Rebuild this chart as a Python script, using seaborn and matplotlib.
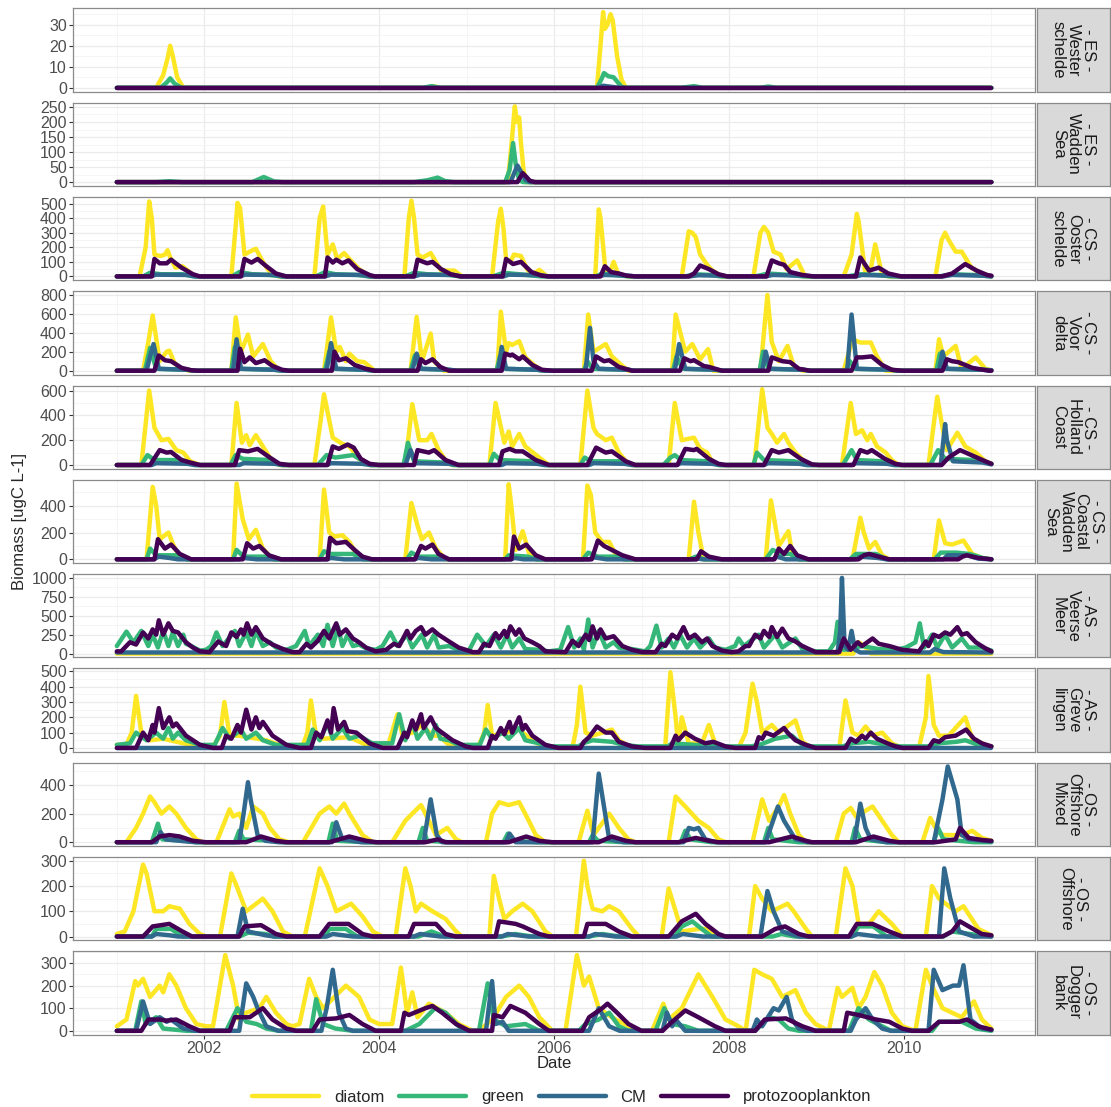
import matplotlib
matplotlib.use('Agg')
import matplotlib.pyplot as plt
import pandas as pd
import seaborn as sns
from matplotlib.lines import Line2D
from matplotlib.ticker import AutoMinorLocator, FixedLocator

SERIES = ['diatom', 'green', 'CM', 'protozooplankton']
COLORS = ['#FDE725', '#35B779', '#31688E', '#440154']

STRIP_LABELS = [
    '- ES -\nWester\nschelde', '- ES -\nWadden\nSea', '- CS -\nOoster\nschelde',
    '- CS -\nVoor\ndelta', '- CS -\nHolland\nCoast', '- CS -\nCoastal\nWadden\nSea',
    '- AS -\nVeerse\nMeer', '- AS -\nGreve\nlingen', '- OS -\nOffshore\nMixed',
    '- OS -\nOffshore', '- OS -\nDogger\nbank',
]
Y_TICKS = [
    [0, 10, 20, 30], [0, 50, 100, 150, 200, 250], [0, 100, 200, 300, 400, 500],
    [0, 200, 400, 600, 800], [0, 200, 400, 600], [0, 200, 400],
    [0, 250, 500, 750, 1000], [0, 100, 200, 300, 400, 500], [0, 200, 400],
    [0, 100, 200, 300], [0, 100, 200, 300],
]
X_MAJOR_YEARS = [2002, 2004, 2006, 2008, 2010]
X_MINOR_YEARS = [2001, 2003, 2005, 2007, 2009, 2011]
X_TICK_LABELS = ['2002', '2004', '2006', '2008', '2010']

# (decimal year, biomass) points
WS_DIATOM = [(2001.0, 0), (2001.45, 0), (2001.53, 6), (2001.58, 14), (2001.61, 20), (2001.64, 15), (2001.69, 5),
             (2001.76, 0), (2004.55, 0), (2004.62, 0.8), (2004.70, 0), (2006.49, 0), (2006.53, 20), (2006.56, 36),
             (2006.58, 28), (2006.61, 30), (2006.645, 35), (2006.67, 32), (2006.72, 15), (2006.77, 4), (2006.82, 0),
             (2011.0, 0)]
WS_GREEN = [(2001.0, 0), (2001.50, 0), (2001.57, 2.5), (2001.61, 4.5), (2001.66, 2), (2001.74, 0), (2004.50, 0),
            (2004.60, 0.8), (2004.70, 0), (2006.49, 0), (2006.54, 4), (2006.57, 7), (2006.62, 5.5), (2006.68, 5),
            (2006.72, 3), (2006.77, 0.5), (2006.82, 0), (2007.45, 0), (2007.60, 0.8), (2007.70, 0), (2008.35, 0),
            (2008.45, 0.6), (2008.55, 0), (2011.0, 0)]
WS_CM = [(2001.0, 0), (2006.50, 0), (2006.56, 1), (2006.65, 0.5), (2006.75, 0), (2011.0, 0)]
WS_PROTO = [(2001.0, 0), (2011.0, 0)]

WZ_DIATOM = [(2001.0, 0), (2005.47, 0), (2005.51, 120), (2005.55, 252), (2005.575, 200), (2005.60, 215),
             (2005.62, 130), (2005.65, 40), (2005.68, 0), (2011.0, 0)]
WZ_GREEN = [(2001.0, 0), (2001.45, 0), (2001.60, 3), (2001.75, 0), (2002.55, 0), (2002.68, 17), (2002.80, 2),
            (2002.90, 0), (2004.40, 0), (2004.55, 6), (2004.67, 15), (2004.75, 4), (2004.85, 0), (2005.44, 0),
            (2005.49, 40), (2005.53, 130), (2005.56, 60), (2005.60, 5), (2005.65, 0), (2011.0, 0)]
WZ_CM = [(2001.0, 0), (2005.50, 0), (2005.55, 35), (2005.58, 55), (2005.62, 35), (2005.67, 8), (2005.72, 0),
         (2011.0, 0)]
WZ_PROTO = [(2001.0, 0), (2005.58, 0), (2005.61, 15), (2005.64, 30), (2005.68, 18), (2005.72, 5), (2005.78, 0),
            (2011.0, 0)]

OS_DIATOM = [(2001.0, 0), (2001.26, 0), (2001.33, 200), (2001.37, 515), (2001.40, 400), (2001.43, 150),
             (2001.50, 140), (2001.55, 150), (2001.58, 180), (2001.61, 130), (2001.67, 60), (2001.75, 70),
             (2001.85, 20), (2001.91, 0), (2002.31, 0), (2002.36, 350), (2002.38, 505), (2002.41, 470),
             (2002.46, 150), (2002.52, 170), (2002.59, 190), (2002.67, 100), (2002.75, 30), (2002.86, 0),
             (2003.26, 0), (2003.32, 400), (2003.36, 480), (2003.41, 150), (2003.47, 220), (2003.52, 120),
             (2003.60, 160), (2003.66, 120), (2003.77, 50), (2003.89, 0), (2004.29, 0), (2004.34, 400),
             (2004.37, 520), (2004.40, 400), (2004.44, 150), (2004.50, 130), (2004.59, 160), (2004.65, 100),
             (2004.71, 40), (2004.86, 40), (2004.95, 0), (2005.29, 0), (2005.36, 380), (2005.39, 465),
             (2005.42, 330), (2005.45, 120), (2005.50, 100), (2005.54, 150), (2005.62, 140), (2005.69, 50),
             (2005.75, 10), (2005.83, 45), (2005.92, 0), (2006.47, 0), (2006.51, 460), (2006.53, 400),
             (2006.59, 20), (2006.64, 30), (2006.68, 100), (2006.73, 20), (2006.84, 0), (2007.46, 0),
             (2007.54, 310), (2007.58, 300), (2007.62, 270), (2007.67, 150), (2007.75, 80), (2007.81, 40),
             (2007.92, 0), (2008.28, 0), (2008.36, 300), (2008.40, 340), (2008.45, 300), (2008.51, 170),
             (2008.59, 150), (2008.66, 50), (2008.78, 110), (2008.87, 0), (2009.31, 0), (2009.40, 150),
             (2009.46, 430), (2009.48, 380), (2009.56, 10), (2009.62, 50), (2009.67, 220), (2009.75, 10),
             (2009.83, 0), (2010.36, 0), (2010.43, 250), (2010.47, 300), (2010.51, 250), (2010.59, 170),
             (2010.66, 170), (2010.77, 60), (2010.89, 20), (2011.0, 0)]
OS_GREEN = [(2001.0, 0), (2001.30, 0), (2001.38, 25), (2001.50, 15), (2001.75, 15), (2001.88, 0), (2002.32, 0),
            (2002.40, 30), (2002.55, 15), (2002.75, 10), (2002.88, 0), (2003.28, 0), (2003.38, 30), (2003.50, 15),
            (2003.75, 10), (2003.88, 0), (2004.30, 0), (2004.40, 25), (2004.55, 15), (2004.80, 10), (2004.92, 0),
            (2005.30, 0), (2005.42, 25), (2005.60, 15), (2005.85, 0), (2006.48, 0), (2006.55, 20), (2006.70, 10),
            (2006.85, 0), (2007.50, 0), (2007.60, 15), (2007.80, 10), (2007.90, 0), (2008.30, 0), (2008.45, 20),
            (2008.70, 10), (2008.85, 0), (2009.35, 0), (2009.50, 15), (2009.70, 10), (2009.85, 0), (2010.40, 0),
            (2010.55, 15), (2010.80, 10), (2011.0, 0)]
OS_CM = [(2001.0, 0), (2001.38, 0), (2001.45, 12), (2001.80, 10), (2001.90, 0), (2002.40, 0), (2002.47, 12),
         (2002.80, 10), (2002.90, 0), (2003.38, 0), (2003.45, 12), (2003.80, 10), (2003.90, 0), (2004.40, 0),
         (2004.47, 12), (2004.85, 10), (2004.95, 0), (2005.42, 0), (2005.48, 12), (2005.85, 8), (2005.93, 0),
         (2006.50, 0), (2006.58, 10), (2006.85, 5), (2006.93, 0), (2007.55, 0), (2007.65, 8), (2007.90, 5),
         (2008.0, 0), (2008.42, 0), (2008.50, 10), (2008.85, 5), (2008.95, 0), (2009.45, 0), (2009.52, 10),
         (2009.85, 5), (2009.95, 0), (2010.45, 0), (2010.55, 10), (2010.90, 5), (2011.0, 0)]
OS_PROTO = [(2001.0, 0), (2001.40, 0), (2001.43, 120), (2001.49, 90), (2001.57, 90), (2001.62, 115), (2001.74, 60),
            (2001.87, 15), (2001.95, 0), (2002.42, 0), (2002.46, 120), (2002.54, 95), (2002.61, 120), (2002.71, 70),
            (2002.82, 20), (2002.94, 0), (2003.38, 0), (2003.41, 130), (2003.47, 95), (2003.51, 115), (2003.58, 90),
            (2003.65, 110), (2003.75, 50), (2003.89, 10), (2003.95, 0), (2004.40, 0), (2004.44, 115), (2004.55, 90),
            (2004.61, 100), (2004.71, 50), (2004.82, 15), (2004.93, 0), (2005.41, 0), (2005.45, 120), (2005.53, 85),
            (2005.62, 100), (2005.74, 30), (2005.86, 5), (2005.94, 0), (2006.53, 0), (2006.58, 70), (2006.65, 30),
            (2006.74, 20), (2006.83, 5), (2006.93, 0), (2007.54, 0), (2007.60, 20), (2007.67, 75), (2007.77, 50),
            (2007.88, 15), (2007.98, 0), (2008.43, 0), (2008.49, 110), (2008.57, 90), (2008.63, 80), (2008.70, 30),
            (2008.84, 10), (2008.97, 0), (2009.45, 0), (2009.50, 130), (2009.60, 40), (2009.71, 60), (2009.82, 20),
            (2009.97, 0), (2010.43, 0), (2010.55, 20), (2010.62, 50), (2010.70, 85), (2010.83, 40), (2010.95, 10),
            (2011.0, 5)]

VD_DIATOM = [(2001.0, 0), (2001.30, 0), (2001.36, 300), (2001.41, 580), (2001.44, 400), (2001.49, 100),
             (2001.57, 200), (2001.60, 210), (2001.66, 80), (2001.74, 20), (2001.83, 0), (2002.31, 0),
             (2002.36, 560), (2002.42, 200), (2002.50, 380), (2002.56, 150), (2002.67, 280), (2002.76, 100),
             (2002.86, 0), (2003.37, 0), (2003.45, 560), (2003.51, 200), (2003.55, 250), (2003.62, 100),
             (2003.66, 180), (2003.75, 100), (2003.83, 90), (2003.95, 0), (2004.36, 0), (2004.43, 565),
             (2004.49, 100), (2004.59, 390), (2004.63, 100), (2004.74, 0), (2005.35, 0), (2005.39, 620),
             (2005.45, 200), (2005.48, 290), (2005.52, 270), (2005.60, 310), (2005.67, 140), (2005.77, 60),
             (2005.86, 0), (2006.34, 0), (2006.39, 590), (2006.45, 200), (2006.59, 280), (2006.66, 150),
             (2006.78, 50), (2006.85, 0), (2007.35, 0), (2007.39, 590), (2007.50, 200), (2007.58, 280),
             (2007.67, 120), (2007.76, 226), (2007.82, 0), (2008.36, 0), (2008.44, 795), (2008.49, 300),
             (2008.57, 100), (2008.67, 260), (2008.74, 50), (2008.84, 0), (2009.31, 0), (2009.41, 330),
             (2009.50, 296), (2009.62, 296), (2009.69, 150), (2009.79, 0), (2010.36, 0), (2010.40, 330),
             (2010.45, 150), (2010.59, 260), (2010.66, 20), (2010.82, 140), (2010.93, 20), (2011.0, 5)]
VD_GREEN = [(2001.0, 0), (2001.32, 0), (2001.38, 240), (2001.45, 20), (2001.80, 10), (2001.88, 0), (2002.31, 0),
            (2002.35, 250), (2002.41, 20), (2002.80, 10), (2002.88, 0), (2003.38, 0), (2003.43, 200), (2003.49, 20),
            (2003.85, 10), (2003.92, 0), (2004.36, 0), (2004.41, 160), (2004.47, 20), (2004.80, 10), (2004.88, 0),
            (2005.34, 0), (2005.38, 150), (2005.44, 20), (2005.80, 10), (2005.88, 0), (2006.34, 0), (2006.38, 100),
            (2006.44, 20), (2006.85, 10), (2006.92, 0), (2007.36, 0), (2007.40, 150), (2007.47, 20), (2007.85, 10),
            (2007.92, 0), (2008.35, 0), (2008.39, 200), (2008.45, 20), (2008.85, 10), (2008.92, 0), (2009.34, 0),
            (2009.38, 100), (2009.44, 20), (2009.85, 10), (2009.92, 0), (2010.37, 0), (2010.41, 180), (2010.47, 20),
            (2010.90, 10), (2011.0, 5)]
VD_CM = [(2001.0, 0), (2001.34, 0), (2001.38, 150), (2001.42, 280), (2001.48, 20), (2001.80, 10), (2001.90, 0),
         (2002.33, 0), (2002.37, 330), (2002.42, 20), (2002.80, 10), (2002.90, 0), (2003.40, 0), (2003.45, 290),
         (2003.51, 20), (2003.85, 10), (2003.95, 0), (2004.38, 0), (2004.43, 180), (2004.48, 20), (2004.80, 10),
         (2004.90, 0), (2005.36, 0), (2005.40, 250), (2005.45, 20), (2005.80, 10), (2005.90, 0), (2006.36, 0),
         (2006.41, 450), (2006.45, 100), (2006.51, 20), (2006.85, 10), (2006.92, 0), (2007.38, 0), (2007.43, 280),
         (2007.50, 20), (2007.85, 10), (2007.93, 0), (2008.38, 0), (2008.42, 200), (2008.47, 20), (2008.85, 10),
         (2008.93, 0), (2009.35, 0), (2009.40, 590), (2009.46, 20), (2009.85, 10), (2009.93, 0), (2010.40, 0),
         (2010.44, 200), (2010.49, 20), (2010.90, 10), (2011.0, 5)]
VD_PROTO = [(2001.0, 0), (2001.43, 0), (2001.48, 160), (2001.55, 110), (2001.62, 100), (2001.74, 30), (2001.85, 5),
            (2001.93, 0), (2002.38, 0), (2002.41, 230), (2002.46, 90), (2002.52, 140), (2002.59, 80), (2002.69, 110),
            (2002.78, 50), (2002.89, 10), (2002.97, 0), (2003.46, 0), (2003.49, 200), (2003.54, 110), (2003.62, 130),
            (2003.72, 60), (2003.85, 20), (2003.95, 0), (2004.44, 0), (2004.48, 120), (2004.53, 80), (2004.61, 120),
            (2004.70, 40), (2004.80, 0), (2005.40, 0), (2005.44, 180), (2005.50, 160), (2005.52, 170), (2005.60, 120),
            (2005.64, 150), (2005.75, 60), (2005.86, 10), (2005.98, 0), (2006.43, 0), (2006.48, 150), (2006.57, 100),
            (2006.63, 110), (2006.74, 40), (2006.89, 0), (2007.44, 0), (2007.49, 130), (2007.56, 100), (2007.60, 110),
            (2007.71, 50), (2007.77, 40), (2007.92, 0), (2008.45, 0), (2008.49, 140), (2008.61, 100), (2008.70, 90),
            (2008.80, 20), (2008.93, 0), (2009.40, 0), (2009.46, 140), (2009.52, 140), (2009.63, 150), (2009.75, 60),
            (2009.86, 10), (2009.98, 0), (2010.44, 0), (2010.49, 120), (2010.55, 100), (2010.62, 90), (2010.78, 30),
            (2010.97, 0), (2011.0, 0)]

HC_DIATOM = [(2001.0, 0), (2001.28, 0), (2001.34, 400), (2001.37, 600), (2001.43, 300), (2001.51, 200),
             (2001.59, 210), (2001.68, 120), (2001.76, 100), (2001.84, 30), (2001.95, 0), (2002.31, 0),
             (2002.37, 500), (2002.43, 180), (2002.48, 240), (2002.52, 160), (2002.59, 240), (2002.67, 150),
             (2002.75, 60), (2002.86, 0), (2003.26, 0), (2003.33, 350), (2003.37, 570), (2003.47, 220),
             (2003.58, 170), (2003.66, 150), (2003.77, 50), (2003.89, 0), (2004.30, 0), (2004.38, 490),
             (2004.46, 200), (2004.55, 200), (2004.60, 250), (2004.68, 120), (2004.76, 40), (2004.84, 0),
             (2005.26, 0), (2005.33, 500), (2005.43, 180), (2005.48, 270), (2005.52, 150), (2005.60, 250),
             (2005.67, 150), (2005.83, 60), (2005.94, 0), (2006.30, 0), (2006.38, 600), (2006.45, 300),
             (2006.49, 250), (2006.59, 200), (2006.66, 220), (2006.74, 100), (2006.82, 30), (2006.89, 0),
             (2007.31, 0), (2007.38, 500), (2007.46, 200), (2007.60, 220), (2007.67, 130), (2007.75, 100),
             (2007.81, 20), (2007.88, 0), (2008.29, 0), (2008.38, 610), (2008.44, 300), (2008.49, 250),
             (2008.55, 180), (2008.63, 250), (2008.68, 180), (2008.76, 100), (2008.86, 30), (2008.95, 0),
             (2009.29, 0), (2009.39, 500), (2009.45, 250), (2009.52, 280), (2009.58, 200), (2009.62, 250),
             (2009.69, 150), (2009.79, 100), (2009.86, 40), (2009.94, 0), (2010.28, 0), (2010.38, 550),
             (2010.44, 300), (2010.49, 120), (2010.61, 260), (2010.70, 150), (2010.82, 100), (2010.93, 30),
             (2011.0, 10)]
HC_GREEN = [(2001.0, 0), (2001.28, 0), (2001.35, 80), (2001.43, 40), (2001.75, 40), (2001.88, 0), (2002.30, 0),
            (2002.36, 80), (2002.44, 50), (2002.75, 40), (2002.88, 0), (2003.30, 0), (2003.40, 80), (2003.50, 60),
            (2003.70, 80), (2003.80, 40), (2003.90, 0), (2004.28, 0), (2004.33, 180), (2004.40, 30), (2004.75, 20),
            (2004.85, 0), (2005.26, 0), (2005.31, 90), (2005.38, 40), (2005.75, 30), (2005.88, 0), (2006.30, 0),
            (2006.35, 60), (2006.42, 30), (2006.75, 30), (2006.88, 0), (2007.25, 0), (2007.33, 60), (2007.38, 80),
            (2007.45, 40), (2007.75, 30), (2007.88, 0), (2008.28, 0), (2008.32, 100), (2008.40, 40), (2008.75, 30),
            (2008.88, 0), (2009.30, 0), (2009.40, 120), (2009.46, 40), (2009.75, 30), (2009.88, 0), (2010.30, 0),
            (2010.39, 120), (2010.47, 50), (2010.80, 40), (2011.0, 10)]
HC_CM = [(2001.0, 0), (2001.40, 0), (2001.45, 15), (2001.80, 10), (2001.90, 0), (2002.40, 0), (2002.45, 15),
         (2002.80, 10), (2002.90, 0), (2003.40, 0), (2003.45, 15), (2003.80, 10), (2003.90, 0), (2004.30, 0),
         (2004.36, 120), (2004.42, 15), (2004.80, 10), (2004.90, 0), (2005.40, 0), (2005.45, 15), (2005.80, 10),
         (2005.90, 0), (2006.40, 0), (2006.45, 15), (2006.80, 10), (2006.90, 0), (2007.40, 0), (2007.45, 15),
         (2007.80, 10), (2007.90, 0), (2008.40, 0), (2008.45, 15), (2008.80, 10), (2008.90, 0), (2009.40, 0),
         (2009.45, 15), (2009.80, 10), (2009.90, 0), (2010.42, 0), (2010.47, 330), (2010.49, 200), (2010.56, 30),
         (2010.90, 20), (2011.0, 5)]
HC_PROTO = [(2001.0, 0), (2001.38, 0), (2001.49, 120), (2001.57, 100), (2001.62, 105), (2001.74, 40), (2001.84, 20),
            (2001.95, 0), (2002.35, 0), (2002.40, 120), (2002.50, 110), (2002.61, 130), (2002.75, 60), (2002.86, 10),
            (2002.97, 0), (2003.41, 0), (2003.47, 150), (2003.54, 130), (2003.64, 165), (2003.71, 140), (2003.79, 50),
            (2003.89, 10), (2004.0, 0), (2004.40, 0), (2004.44, 120), (2004.57, 100), (2004.63, 120), (2004.76, 40),
            (2004.91, 0), (2005.37, 0), (2005.41, 110), (2005.49, 130), (2005.56, 110), (2005.64, 110), (2005.79, 40),
            (2005.94, 0), (2006.38, 0), (2006.48, 140), (2006.59, 100), (2006.66, 110), (2006.82, 30), (2006.93, 0),
            (2007.41, 0), (2007.50, 130), (2007.60, 120), (2007.63, 130), (2007.77, 50), (2007.88, 10), (2007.96, 0),
            (2008.40, 0), (2008.49, 120), (2008.57, 100), (2008.68, 120), (2008.82, 50), (2008.95, 5), (2009.03, 0),
            (2009.42, 0), (2009.50, 120), (2009.58, 100), (2009.63, 120), (2009.78, 50), (2009.90, 10), (2009.98, 0),
            (2010.43, 0), (2010.51, 60), (2010.64, 120), (2010.77, 80), (2010.93, 30), (2011.0, 10)]

CW_DIATOM = [(2001.0, 0), (2001.34, 0), (2001.41, 540), (2001.45, 400), (2001.49, 150), (2001.59, 200),
             (2001.65, 100), (2001.72, 20), (2001.80, 0), (2002.33, 0), (2002.37, 565), (2002.44, 300),
             (2002.51, 150), (2002.59, 220), (2002.67, 80), (2002.78, 0), (2003.32, 0), (2003.37, 520),
             (2003.43, 200), (2003.49, 170), (2003.58, 180), (2003.66, 130), (2003.73, 50), (2003.85, 0),
             (2004.30, 0), (2004.37, 420), (2004.44, 250), (2004.49, 150), (2004.57, 200), (2004.65, 80),
             (2004.76, 0), (2005.44, 0), (2005.48, 560), (2005.51, 400), (2005.56, 70), (2005.64, 210),
             (2005.71, 50), (2005.79, 0), (2006.33, 0), (2006.38, 550), (2006.42, 480), (2006.47, 200),
             (2006.55, 130), (2006.63, 130), (2006.70, 40), (2006.82, 0), (2007.54, 0), (2007.60, 430),
             (2007.65, 200), (2007.71, 0), (2008.42, 0), (2008.48, 440), (2008.57, 100), (2008.68, 210),
             (2008.72, 50), (2008.80, 0), (2009.41, 0), (2009.50, 310), (2009.54, 200), (2009.60, 80),
             (2009.67, 130), (2009.75, 30), (2009.83, 0), (2010.34, 0), (2010.40, 290), (2010.47, 120),
             (2010.55, 110), (2010.68, 140), (2010.78, 40), (2010.89, 10), (2011.0, 0)]
CW_GREEN = [(2001.0, 0), (2001.34, 0), (2001.38, 80), (2001.45, 30), (2001.70, 30), (2001.80, 0), (2002.33, 0),
            (2002.37, 70), (2002.45, 20), (2002.70, 20), (2002.80, 0), (2003.32, 0), (2003.37, 60), (2003.45, 40),
            (2003.70, 40), (2003.82, 0), (2004.32, 0), (2004.37, 50), (2004.45, 20), (2004.70, 20), (2004.80, 0),
            (2005.44, 0), (2005.48, 30), (2005.70, 20), (2005.80, 0), (2006.33, 0), (2006.39, 50), (2006.50, 20),
            (2006.70, 20), (2006.80, 0), (2007.55, 0), (2007.62, 20), (2007.72, 0), (2008.42, 0), (2008.50, 70),
            (2008.60, 40), (2008.70, 40), (2008.80, 0), (2009.38, 0), (2009.45, 40), (2009.68, 40), (2009.80, 0),
            (2010.35, 0), (2010.42, 50), (2010.60, 50), (2010.75, 40), (2010.90, 10), (2011.0, 0)]
CW_CM = [(2001.0, 0), (2001.42, 0), (2001.48, 20), (2001.60, 10), (2001.70, 0), (2002.40, 0), (2002.45, 10),
         (2002.60, 0), (2003.40, 0), (2003.45, 10), (2003.60, 0), (2004.40, 0), (2004.45, 10), (2004.60, 0),
         (2005.50, 0), (2005.55, 10), (2005.65, 0), (2006.40, 0), (2006.45, 15), (2006.60, 0), (2007.60, 0),
         (2007.65, 5), (2007.70, 0), (2008.50, 0), (2008.55, 20), (2008.65, 0), (2009.45, 0), (2009.50, 20),
         (2009.70, 10), (2009.80, 0), (2010.45, 0), (2010.50, 30), (2010.72, 30), (2010.85, 5), (2011.0, 0)]
CW_PROTO = [(2001.0, 0), (2001.43, 0), (2001.47, 150), (2001.55, 80), (2001.62, 110), (2001.72, 40), (2001.85, 0),
            (2002.44, 0), (2002.49, 120), (2002.56, 80), (2002.63, 100), (2002.74, 30), (2002.88, 0), (2003.41, 0),
            (2003.44, 160), (2003.51, 120), (2003.62, 130), (2003.72, 70), (2003.81, 20), (2003.92, 0), (2004.41, 0),
            (2004.48, 100), (2004.53, 80), (2004.61, 110), (2004.68, 40), (2004.80, 0), (2005.51, 0), (2005.54, 170),
            (2005.60, 80), (2005.68, 110), (2005.79, 30), (2005.90, 0), (2006.43, 0), (2006.50, 140), (2006.57, 100),
            (2006.66, 70), (2006.78, 30), (2006.93, 0), (2007.63, 0), (2007.68, 60), (2007.77, 20), (2007.92, 0),
            (2008.52, 0), (2008.57, 80), (2008.63, 40), (2008.70, 100), (2008.78, 30), (2008.91, 0), (2009.48, 0),
            (2009.54, 30), (2009.60, 40), (2009.71, 20), (2009.83, 0), (2010.62, 0), (2010.67, 20), (2010.72, 30),
            (2010.85, 10), (2011.0, 0)]

VM_DIATOM = [(2001.0, 0), (2009.42, 0), (2009.48, 150), (2009.55, 100), (2009.62, 0), (2011.0, 0)]
VM_GREEN = [(2001.0, 100), (2001.11, 290), (2001.19, 150), (2001.28, 300), (2001.36, 100), (2001.41, 250),
            (2001.47, 80), (2001.53, 300), (2001.59, 100), (2001.64, 280), (2001.70, 100), (2001.76, 250),
            (2001.79, 130), (2001.85, 100), (2001.95, 40), (2002.02, 50), (2002.08, 100), (2002.14, 280),
            (2002.21, 100), (2002.35, 300), (2002.40, 100), (2002.48, 280), (2002.54, 100), (2002.59, 300),
            (2002.67, 100), (2002.75, 150), (2002.82, 80), (2002.94, 50), (2003.05, 100), (2003.15, 300),
            (2003.20, 100), (2003.30, 250), (2003.36, 100), (2003.41, 380), (2003.47, 100), (2003.53, 350),
            (2003.58, 100), (2003.64, 250), (2003.70, 100), (2003.77, 120), (2003.85, 70), (2003.96, 50),
            (2004.04, 100), (2004.13, 280), (2004.21, 100), (2004.32, 250), (2004.38, 80), (2004.49, 250),
            (2004.55, 80), (2004.63, 250), (2004.68, 80), (2004.80, 100), (2004.95, 30), (2005.03, 50),
            (2005.12, 250), (2005.22, 100), (2005.31, 250), (2005.39, 80), (2005.46, 250), (2005.52, 80),
            (2005.60, 200), (2005.67, 60), (2005.83, 50), (2005.94, 30), (2006.07, 50), (2006.16, 350),
            (2006.23, 80), (2006.30, 200), (2006.34, 50), (2006.39, 450), (2006.44, 80), (2006.51, 300),
            (2006.59, 80), (2006.68, 150), (2006.74, 80), (2006.89, 60), (2007.04, 30), (2007.10, 100),
            (2007.17, 370), (2007.23, 80), (2007.31, 200), (2007.37, 80), (2007.44, 250), (2007.52, 80),
            (2007.60, 200), (2007.67, 80), (2007.77, 200), (2007.84, 80), (2007.96, 50), (2008.07, 100),
            (2008.11, 200), (2008.17, 100), (2008.34, 250), (2008.40, 80), (2008.53, 250), (2008.61, 80),
            (2008.76, 200), (2008.84, 60), (2008.99, 30), (2009.14, 30), (2009.21, 150), (2009.24, 420),
            (2009.27, 100), (2009.31, 50), (2009.52, 100), (2009.71, 60), (2009.90, 50), (2010.02, 80),
            (2010.13, 150), (2010.18, 400), (2010.23, 80), (2010.32, 250), (2010.38, 80), (2010.47, 250),
            (2010.55, 80), (2010.66, 200), (2010.74, 80), (2010.89, 80), (2011.0, 40)]
VM_CM = [(2001.0, 15), (2009.24, 15), (2009.27, 300), (2009.29, 1000), (2009.32, 100), (2009.36, 50),
         (2009.40, 300), (2009.44, 50), (2009.50, 15), (2010.30, 15), (2010.35, 60), (2010.45, 20), (2011.0, 15)]
VM_PROTO = [(2001.0, 30), (2001.05, 30), (2001.15, 150), (2001.22, 120), (2001.30, 280), (2001.36, 200),
            (2001.41, 320), (2001.45, 250), (2001.48, 440), (2001.53, 250), (2001.59, 400), (2001.64, 300),
            (2001.70, 280), (2001.79, 150), (2001.87, 80), (2001.95, 30), (2002.06, 20), (2002.16, 160),
            (2002.25, 100), (2002.31, 280), (2002.37, 220), (2002.42, 320), (2002.45, 250), (2002.49, 400),
            (2002.54, 250), (2002.59, 350), (2002.67, 200), (2002.78, 120), (2002.90, 60), (2003.01, 20),
            (2003.09, 20), (2003.17, 130), (2003.22, 80), (2003.30, 170), (2003.37, 300), (2003.43, 200),
            (2003.51, 400), (2003.55, 250), (2003.62, 320), (2003.70, 200), (2003.77, 150), (2003.85, 80),
            (2003.96, 30), (2004.08, 50), (2004.17, 130), (2004.23, 100), (2004.32, 300), (2004.36, 200),
            (2004.42, 300), (2004.48, 350), (2004.53, 250), (2004.61, 320), (2004.68, 250), (2004.80, 160),
            (2004.91, 80), (2005.07, 20), (2005.14, 20), (2005.20, 130), (2005.26, 100), (2005.33, 270),
            (2005.37, 200), (2005.43, 300), (2005.46, 220), (2005.50, 360), (2005.56, 250), (2005.60, 320),
            (2005.66, 200), (2005.75, 150), (2005.83, 100), (2005.90, 30), (2006.13, 20), (2006.21, 170),
            (2006.28, 100), (2006.36, 250), (2006.40, 180), (2006.44, 360), (2006.49, 200), (2006.53, 320),
            (2006.59, 200), (2006.68, 230), (2006.78, 100), (2006.89, 50), (2007.01, 20), (2007.16, 20),
            (2007.23, 130), (2007.27, 100), (2007.35, 250), (2007.41, 200), (2007.48, 350), (2007.54, 200),
            (2007.61, 250), (2007.69, 150), (2007.75, 200), (2007.81, 100), (2007.92, 40), (2008.03, 20),
            (2008.11, 30), (2008.19, 100), (2008.23, 100), (2008.30, 250), (2008.36, 200), (2008.40, 300),
            (2008.46, 220), (2008.49, 350), (2008.55, 220), (2008.61, 330), (2008.68, 200), (2008.76, 160),
            (2008.84, 100), (2008.99, 20), (2009.26, 20), (2009.31, 200), (2009.39, 50), (2009.47, 150),
            (2009.52, 100), (2009.64, 200), (2009.71, 130), (2009.83, 100), (2009.98, 50), (2010.17, 30),
            (2010.25, 160), (2010.28, 100), (2010.34, 250), (2010.40, 220), (2010.47, 280), (2010.53, 250),
            (2010.61, 350), (2010.66, 250), (2010.72, 270), (2010.82, 150), (2010.93, 70), (2011.0, 30)]

GR_DIATOM = [(2001.0, 20), (2001.11, 20), (2001.17, 100), (2001.22, 340), (2001.28, 100), (2001.38, 50),
             (2001.53, 60), (2001.76, 30), (2001.95, 10), (2002.10, 10), (2002.18, 80), (2002.23, 300),
             (2002.29, 80), (2002.40, 80), (2002.71, 50), (2002.90, 10), (2003.13, 20), (2003.18, 100),
             (2003.22, 310), (2003.28, 80), (2003.35, 60), (2003.66, 70), (2003.85, 20), (2004.11, 30),
             (2004.21, 220), (2004.27, 80), (2004.38, 100), (2004.49, 150), (2004.61, 80), (2004.68, 80),
             (2004.80, 20), (2004.99, 10), (2005.14, 20), (2005.20, 100), (2005.24, 280), (2005.29, 80),
             (2005.45, 100), (2005.60, 120), (2005.75, 50), (2005.90, 0), (2006.21, 0), (2006.26, 150),
             (2006.30, 400), (2006.36, 100), (2006.44, 80), (2006.66, 120), (2006.74, 50), (2006.89, 0),
             (2007.27, 0), (2007.33, 495), (2007.39, 200), (2007.42, 10), (2007.46, 200), (2007.54, 30),
             (2007.69, 30), (2007.77, 150), (2007.84, 30), (2007.92, 0), (2008.11, 0), (2008.19, 100),
             (2008.27, 420), (2008.32, 300), (2008.38, 100), (2008.49, 150), (2008.57, 100), (2008.76, 180),
             (2008.84, 40), (2008.95, 0), (2009.26, 0), (2009.33, 310), (2009.41, 100), (2009.48, 80),
             (2009.56, 140), (2009.64, 80), (2009.75, 100), (2009.86, 30), (2009.98, 0), (2010.17, 0),
             (2010.25, 200), (2010.28, 470), (2010.34, 150), (2010.40, 80), (2010.51, 80), (2010.70, 200),
             (2010.78, 60), (2010.93, 20), (2011.0, 10)]
GR_GREEN = [(2001.0, 20), (2001.15, 30), (2001.22, 100), (2001.34, 50), (2001.45, 100), (2001.53, 60),
            (2001.59, 130), (2001.64, 60), (2001.70, 100), (2001.79, 50), (2001.95, 20), (2002.12, 20),
            (2002.21, 130), (2002.29, 60), (2002.42, 120), (2002.48, 60), (2002.59, 100), (2002.67, 50),
            (2002.82, 20), (2003.18, 20), (2003.24, 120), (2003.32, 50), (2003.41, 160), (2003.47, 60),
            (2003.58, 130), (2003.66, 60), (2003.77, 80), (2003.92, 30), (2004.15, 30), (2004.23, 220),
            (2004.30, 50), (2004.38, 170), (2004.44, 60), (2004.53, 130), (2004.59, 60), (2004.65, 150),
            (2004.70, 60), (2004.80, 50), (2004.91, 20), (2005.15, 20), (2005.22, 120), (2005.29, 60),
            (2005.41, 100), (2005.48, 60), (2005.60, 130), (2005.67, 50), (2005.83, 30), (2005.95, 10),
            (2006.28, 10), (2006.33, 30), (2006.44, 50), (2006.66, 40), (2006.80, 20), (2006.95, 10),
            (2007.30, 10), (2007.35, 30), (2007.60, 20), (2007.90, 10), (2008.25, 10), (2008.35, 20),
            (2008.53, 60), (2008.72, 80), (2008.84, 20), (2008.95, 10), (2009.30, 10), (2009.40, 30),
            (2009.60, 40), (2009.80, 20), (2009.95, 10), (2010.30, 10), (2010.40, 30), (2010.60, 40),
            (2010.70, 50), (2010.85, 20), (2011.0, 10)]
GR_CM = [(2001.0, 2), (2011.0, 2)]
GR_PROTO = [(2001.0, 0), (2001.22, 0), (2001.30, 100), (2001.36, 50), (2001.41, 150), (2001.43, 100),
            (2001.48, 260), (2001.53, 130), (2001.60, 200), (2001.64, 140), (2001.68, 160), (2001.79, 80),
            (2001.95, 20), (2002.10, 0), (2002.20, 0), (2002.25, 80), (2002.31, 60), (2002.38, 150), (2002.42, 100),
            (2002.48, 250), (2002.54, 120), (2002.59, 200), (2002.63, 130), (2002.67, 170), (2002.78, 80),
            (2002.94, 20), (2003.09, 0), (2003.22, 0), (2003.28, 100), (2003.34, 70), (2003.41, 180), (2003.45, 100),
            (2003.48, 260), (2003.53, 120), (2003.60, 170), (2003.64, 110), (2003.74, 100), (2003.89, 30),
            (2004.04, 0), (2004.21, 0), (2004.29, 100), (2004.32, 70), (2004.38, 180), (2004.42, 120), (2004.48, 220),
            (2004.51, 130), (2004.59, 200), (2004.65, 130), (2004.72, 100), (2004.84, 50), (2004.99, 10),
            (2005.07, 0), (2005.24, 0), (2005.29, 80), (2005.33, 60), (2005.39, 130), (2005.43, 90), (2005.49, 170),
            (2005.52, 100), (2005.60, 200), (2005.64, 120), (2005.67, 150), (2005.75, 80), (2005.90, 20),
            (2006.05, 0), (2006.30, 0), (2006.34, 40), (2006.40, 70), (2006.49, 140), (2006.59, 100), (2006.66, 100),
            (2006.74, 40), (2006.89, 10), (2007.04, 0), (2007.33, 0), (2007.39, 80), (2007.42, 50), (2007.50, 100),
            (2007.61, 60), (2007.73, 30), (2007.82, 40), (2007.96, 10), (2008.07, 0), (2008.30, 0), (2008.34, 70),
            (2008.38, 60), (2008.42, 100), (2008.51, 80), (2008.63, 130), (2008.67, 100), (2008.76, 50),
            (2008.88, 20), (2008.99, 0), (2009.33, 0), (2009.39, 60), (2009.45, 40), (2009.52, 80), (2009.56, 60),
            (2009.62, 100), (2009.69, 60), (2009.81, 30), (2009.90, 10), (2009.98, 0), (2010.28, 0), (2010.34, 50),
            (2010.40, 40), (2010.47, 70), (2010.59, 80), (2010.71, 120), (2010.80, 60), (2010.89, 30), (2011.0, 10)]

OM_DIATOM = [(2001.0, 0), (2001.11, 0), (2001.22, 100), (2001.30, 200), (2001.38, 320), (2001.43, 280),
             (2001.51, 200), (2001.60, 250), (2001.68, 200), (2001.79, 100), (2001.91, 20), (2001.98, 0),
             (2002.14, 0), (2002.29, 230), (2002.33, 180), (2002.40, 200), (2002.48, 100), (2002.56, 250),
             (2002.67, 200), (2002.75, 100), (2002.86, 20), (2002.97, 0), (2003.13, 0), (2003.32, 200),
             (2003.43, 250), (2003.51, 200), (2003.60, 270), (2003.66, 200), (2003.81, 50), (2003.93, 0),
             (2004.15, 0), (2004.30, 150), (2004.38, 200), (2004.48, 260), (2004.53, 200), (2004.65, 50),
             (2004.78, 100), (2004.88, 20), (2004.95, 0), (2005.22, 0), (2005.29, 200), (2005.37, 280),
             (2005.48, 260), (2005.60, 280), (2005.71, 150), (2005.79, 50), (2005.90, 0), (2006.28, 0),
             (2006.38, 220), (2006.45, 50), (2006.63, 200), (2006.74, 100), (2006.85, 20), (2006.93, 0),
             (2007.31, 0), (2007.39, 320), (2007.50, 250), (2007.65, 150), (2007.77, 100), (2007.88, 20),
             (2007.96, 0), (2008.27, 0), (2008.38, 300), (2008.46, 150), (2008.57, 250), (2008.63, 330),
             (2008.70, 200), (2008.80, 50), (2008.88, 0), (2009.22, 0), (2009.31, 200), (2009.39, 240),
             (2009.45, 180), (2009.64, 250), (2009.75, 150), (2009.86, 50), (2009.94, 0), (2010.21, 0),
             (2010.30, 170), (2010.36, 100), (2010.44, 50), (2010.66, 50), (2010.78, 80), (2010.89, 30),
             (2011.0, 10)]
OM_GREEN = [(2001.0, 0), (2001.40, 0), (2001.47, 130), (2001.52, 20), (2001.80, 10), (2001.90, 0), (2002.35, 0),
            (2002.40, 80), (2002.45, 20), (2002.80, 10), (2002.90, 0), (2003.42, 0), (2003.47, 130), (2003.52, 10),
            (2003.85, 0), (2004.45, 0), (2004.50, 100), (2004.55, 10), (2004.80, 0), (2005.42, 0), (2005.47, 60),
            (2005.52, 10), (2005.80, 0), (2006.40, 0), (2006.44, 50), (2006.50, 10), (2006.80, 0), (2007.45, 0),
            (2007.50, 80), (2007.56, 20), (2007.80, 0), (2008.40, 0), (2008.45, 100), (2008.50, 20), (2008.80, 0),
            (2009.40, 0), (2009.44, 100), (2009.50, 20), (2009.80, 0), (2010.34, 0), (2010.39, 100), (2010.45, 20),
            (2010.80, 0), (2011.0, 0)]
OM_CM = [(2001.0, 0), (2001.45, 0), (2001.50, 70), (2001.56, 20), (2001.80, 5), (2001.90, 0), (2002.40, 0),
         (2002.45, 200), (2002.50, 420), (2002.53, 300), (2002.61, 50), (2002.70, 10), (2002.85, 0), (2003.46, 0),
         (2003.51, 140), (2003.58, 20), (2003.80, 0), (2004.51, 0), (2004.59, 300), (2004.66, 50), (2004.72, 0),
         (2005.45, 0), (2005.49, 60), (2005.56, 0), (2006.44, 0), (2006.51, 480), (2006.57, 250), (2006.63, 20),
         (2006.80, 0), (2007.48, 0), (2007.54, 100), (2007.60, 90), (2007.65, 100), (2007.73, 20), (2007.85, 0),
         (2008.42, 0), (2008.56, 250), (2008.63, 150), (2008.68, 100), (2008.76, 20), (2008.90, 0), (2009.43, 0),
         (2009.50, 270), (2009.56, 100), (2009.62, 20), (2009.80, 0), (2010.34, 0), (2010.44, 300), (2010.50, 530),
         (2010.61, 300), (2010.66, 50), (2010.74, 20), (2011.0, 5)]
OM_PROTO = [(2001.0, 0), (2001.40, 0), (2001.49, 40), (2001.60, 50), (2001.72, 40), (2001.87, 10), (2002.02, 0),
            (2002.48, 0), (2002.65, 40), (2002.82, 10), (2002.94, 0), (2003.43, 0), (2003.66, 40), (2003.85, 10),
            (2003.97, 0), (2004.53, 0), (2004.67, 20), (2004.76, 0), (2005.48, 0), (2005.68, 40), (2005.83, 10),
            (2005.98, 0), (2006.51, 0), (2006.66, 40), (2006.82, 10), (2006.93, 0), (2007.42, 0), (2007.62, 30),
            (2007.77, 10), (2007.88, 0), (2008.46, 0), (2008.72, 40), (2008.88, 10), (2008.95, 0), (2009.45, 0),
            (2009.65, 40), (2009.83, 10), (2009.94, 0), (2010.36, 0), (2010.59, 20), (2010.64, 100), (2010.74, 30),
            (2010.90, 15), (2011.0, 10)]

OF_DIATOM = [(2001.0, 10), (2001.09, 20), (2001.19, 100), (2001.30, 285), (2001.34, 250), (2001.43, 100),
             (2001.53, 100), (2001.60, 120), (2001.72, 110), (2001.83, 50), (2001.95, 10), (2002.02, 0),
             (2002.18, 0), (2002.31, 250), (2002.37, 200), (2002.48, 100), (2002.67, 150), (2002.78, 100),
             (2002.90, 20), (2003.01, 0), (2003.15, 0), (2003.32, 270), (2003.41, 200), (2003.51, 100),
             (2003.68, 130), (2003.81, 80), (2003.93, 20), (2004.04, 0), (2004.19, 0), (2004.30, 270),
             (2004.36, 200), (2004.42, 100), (2004.48, 130), (2004.61, 100), (2004.76, 70), (2004.88, 20),
             (2004.95, 0), (2005.26, 0), (2005.31, 240), (2005.37, 150), (2005.43, 70), (2005.52, 100),
             (2005.64, 130), (2005.75, 100), (2005.90, 20), (2005.98, 0), (2006.25, 0), (2006.34, 300),
             (2006.38, 200), (2006.44, 110), (2006.55, 100), (2006.63, 120), (2006.74, 100), (2006.89, 30),
             (2006.97, 0), (2007.23, 0), (2007.31, 190), (2007.39, 100), (2007.46, 20), (2007.65, 30),
             (2007.77, 30), (2007.84, 0), (2008.23, 0), (2008.30, 200), (2008.38, 150), (2008.49, 100),
             (2008.67, 130), (2008.74, 100), (2008.88, 30), (2008.95, 0), (2009.22, 0), (2009.33, 270),
             (2009.41, 200), (2009.48, 50), (2009.60, 50), (2009.71, 100), (2009.86, 50), (2009.98, 0),
             (2010.25, 0), (2010.32, 200), (2010.40, 150), (2010.59, 100), (2010.68, 120), (2010.85, 30),
             (2011.0, 5)]
OF_GREEN = [(2001.0, 0), (2001.40, 0), (2001.45, 30), (2001.62, 30), (2001.75, 0), (2002.40, 0), (2002.50, 15),
            (2002.70, 10), (2002.80, 0), (2003.38, 0), (2003.43, 30), (2003.62, 30), (2003.75, 0), (2004.45, 0),
            (2004.60, 20), (2004.75, 0), (2005.40, 0), (2005.55, 10), (2005.75, 0), (2006.40, 0), (2006.55, 10),
            (2006.75, 0), (2007.38, 0), (2007.46, 40), (2007.58, 60), (2007.69, 30), (2007.80, 0), (2008.50, 0),
            (2008.60, 10), (2008.75, 0), (2009.40, 0), (2009.48, 40), (2009.65, 40), (2009.80, 0), (2010.45, 0),
            (2010.55, 20), (2010.75, 10), (2011.0, 0)]
OF_CM = [(2001.0, 0), (2001.40, 0), (2001.45, 10), (2001.60, 5), (2001.70, 0), (2002.38, 0), (2002.44, 110),
         (2002.50, 20), (2002.70, 5), (2002.80, 0), (2003.40, 0), (2003.47, 10), (2003.70, 0), (2004.40, 0),
         (2004.47, 10), (2004.70, 0), (2005.40, 0), (2005.47, 10), (2005.70, 0), (2006.40, 0), (2006.47, 10),
         (2006.70, 0), (2007.40, 0), (2007.47, 10), (2007.70, 0), (2008.36, 0), (2008.44, 180), (2008.51, 100),
         (2008.61, 20), (2008.80, 0), (2009.40, 0), (2009.47, 10), (2009.70, 0), (2010.40, 0), (2010.46, 270),
         (2010.53, 150), (2010.63, 20), (2010.80, 0), (2011.0, 0)]
OF_PROTO = [(2001.0, 0), (2001.30, 0), (2001.41, 40), (2001.60, 50), (2001.75, 20), (2001.86, 0), (2002.40, 0),
            (2002.46, 40), (2002.65, 45), (2002.82, 10), (2002.94, 0), (2003.32, 0), (2003.43, 50), (2003.65, 50),
            (2003.81, 10), (2003.93, 0), (2004.34, 0), (2004.40, 50), (2004.65, 50), (2004.76, 10), (2004.88, 0),
            (2005.33, 0), (2005.37, 60), (2005.56, 50), (2005.64, 40), (2005.83, 10), (2005.94, 0), (2006.34, 0),
            (2006.38, 50), (2006.59, 50), (2006.74, 20), (2006.89, 0), (2007.31, 0), (2007.46, 60), (2007.62, 90),
            (2007.73, 50), (2007.88, 10), (2007.96, 0), (2008.38, 0), (2008.53, 30), (2008.64, 40), (2008.80, 10),
            (2008.91, 0), (2009.37, 0), (2009.46, 50), (2009.64, 50), (2009.83, 20), (2009.98, 0), (2010.44, 0),
            (2010.55, 20), (2010.64, 60), (2010.89, 10), (2011.0, 5)]

DB_DIATOM = [(2001.0, 20), (2001.11, 50), (2001.21, 220), (2001.24, 200), (2001.30, 230), (2001.38, 150),
             (2001.49, 200), (2001.53, 170), (2001.60, 250), (2001.68, 200), (2001.79, 100), (2001.91, 30),
             (2002.02, 20), (2002.10, 20), (2002.24, 335), (2002.33, 200), (2002.40, 50), (2002.48, 80),
             (2002.63, 100), (2002.71, 150), (2002.82, 80), (2002.94, 30), (2003.01, 20), (2003.09, 30),
             (2003.20, 230), (2003.28, 150), (2003.36, 100), (2003.62, 200), (2003.77, 150), (2003.89, 50),
             (2004.0, 30), (2004.15, 30), (2004.25, 280), (2004.32, 80), (2004.38, 170), (2004.44, 60),
             (2004.57, 120), (2004.76, 80), (2004.91, 30), (2005.07, 0), (2005.14, 0), (2005.29, 50),
             (2005.45, 150), (2005.60, 200), (2005.71, 150), (2005.83, 60), (2005.98, 0), (2006.13, 0),
             (2006.26, 335), (2006.34, 200), (2006.40, 240), (2006.51, 100), (2006.66, 60), (2006.85, 20),
             (2006.97, 0), (2007.12, 0), (2007.25, 120), (2007.31, 50), (2007.46, 100), (2007.65, 250),
             (2007.81, 150), (2007.96, 50), (2008.11, 20), (2008.19, 0), (2008.29, 270), (2008.38, 250),
             (2008.49, 230), (2008.61, 150), (2008.76, 180), (2008.88, 80), (2008.99, 30), (2009.14, 0),
             (2009.24, 190), (2009.29, 150), (2009.41, 190), (2009.48, 100), (2009.56, 150), (2009.66, 260),
             (2009.75, 200), (2009.86, 80), (2009.98, 20), (2010.13, 0), (2010.25, 270), (2010.32, 200),
             (2010.44, 100), (2010.66, 60), (2010.80, 130), (2010.89, 50), (2011.0, 10)]
DB_GREEN = [(2001.0, 0), (2001.21, 0), (2001.28, 130), (2001.33, 30), (2001.45, 60), (2001.53, 10), (2001.80, 0),
            (2002.25, 0), (2002.38, 100), (2002.48, 40), (2002.60, 30), (2002.71, 10), (2002.85, 0), (2003.22, 0),
            (2003.28, 140), (2003.36, 30), (2003.50, 10), (2003.70, 0), (2004.30, 0), (2004.46, 30), (2004.64, 100),
            (2004.76, 80), (2004.91, 20), (2005.0, 0), (2005.14, 0), (2005.24, 210), (2005.31, 50), (2005.45, 20),
            (2005.67, 30), (2005.83, 0), (2006.28, 0), (2006.36, 30), (2006.51, 50), (2006.63, 80), (2006.74, 20),
            (2006.85, 0), (2007.16, 0), (2007.26, 100), (2007.35, 30), (2007.50, 20), (2007.65, 0), (2008.30, 0),
            (2008.46, 60), (2008.57, 50), (2008.68, 10), (2008.80, 0), (2009.37, 0), (2009.48, 100), (2009.60, 50),
            (2009.75, 20), (2009.85, 0), (2010.32, 0), (2010.40, 40), (2010.66, 40), (2010.82, 10), (2011.0, 0)]
DB_CM = [(2001.0, 0), (2001.22, 0), (2001.30, 130), (2001.38, 30), (2001.49, 60), (2001.57, 40), (2001.62, 50),
         (2001.76, 10), (2001.90, 0), (2002.40, 0), (2002.48, 210), (2002.56, 150), (2002.61, 100), (2002.71, 20),
         (2002.85, 0), (2003.34, 0), (2003.40, 100), (2003.47, 270), (2003.54, 80), (2003.62, 10), (2003.70, 0),
         (2005.22, 0), (2005.29, 220), (2005.33, 30), (2005.41, 40), (2005.48, 0), (2006.40, 0), (2006.51, 100),
         (2006.63, 20), (2006.75, 0), (2007.24, 0), (2007.29, 80), (2007.35, 20), (2007.39, 50), (2007.50, 0),
         (2008.27, 0), (2008.32, 50), (2008.38, 20), (2008.51, 100), (2008.57, 90), (2008.66, 150), (2008.72, 50),
         (2008.80, 10), (2008.90, 0), (2009.39, 0), (2009.45, 50), (2009.56, 100), (2009.64, 50), (2009.75, 10),
         (2009.85, 0), (2010.28, 0), (2010.34, 270), (2010.44, 180), (2010.56, 200), (2010.63, 200),
         (2010.68, 290), (2010.76, 50), (2010.89, 10), (2011.0, 5)]
DB_PROTO = [(2001.0, 0), (2001.28, 0), (2001.36, 50), (2001.49, 50), (2001.56, 45), (2001.68, 50), (2001.83, 20),
            (2001.95, 0), (2002.29, 0), (2002.35, 60), (2002.52, 60), (2002.67, 100), (2002.78, 50), (2002.94, 10),
            (2003.05, 0), (2003.24, 0), (2003.32, 50), (2003.51, 55), (2003.66, 70), (2003.81, 30), (2003.96, 0),
            (2004.25, 0), (2004.29, 80), (2004.34, 70), (2004.53, 100), (2004.61, 110), (2004.72, 80), (2004.88, 30),
            (2005.03, 0), (2005.29, 0), (2005.31, 70), (2005.41, 60), (2005.50, 110), (2005.67, 80), (2005.83, 30),
            (2005.94, 0), (2006.32, 0), (2006.40, 60), (2006.55, 100), (2006.61, 120), (2006.72, 80), (2006.85, 30),
            (2007.0, 0), (2007.24, 0), (2007.35, 40), (2007.50, 90), (2007.65, 60), (2007.84, 20), (2007.96, 0),
            (2008.30, 0), (2008.41, 50), (2008.65, 55), (2008.84, 20), (2008.99, 0), (2009.31, 0), (2009.35, 80),
            (2009.48, 70), (2009.68, 50), (2009.83, 40), (2009.98, 10), (2010.09, 0), (2010.28, 0), (2010.40, 40),
            (2010.63, 40), (2010.72, 50), (2010.85, 20), (2011.0, 5)]

PANEL_SERIES = [
    (WS_DIATOM, WS_GREEN, WS_CM, WS_PROTO),
    (WZ_DIATOM, WZ_GREEN, WZ_CM, WZ_PROTO),
    (OS_DIATOM, OS_GREEN, OS_CM, OS_PROTO),
    (VD_DIATOM, VD_GREEN, VD_CM, VD_PROTO),
    (HC_DIATOM, HC_GREEN, HC_CM, HC_PROTO),
    (CW_DIATOM, CW_GREEN, CW_CM, CW_PROTO),
    (VM_DIATOM, VM_GREEN, VM_CM, VM_PROTO),
    (GR_DIATOM, GR_GREEN, GR_CM, GR_PROTO),
    (OM_DIATOM, OM_GREEN, OM_CM, OM_PROTO),
    (OF_DIATOM, OF_GREEN, OF_CM, OF_PROTO),
    (DB_DIATOM, DB_GREEN, DB_CM, DB_PROTO),
]


def to_date(t):
    year = int(t)
    return pd.Timestamp(year=year, month=1, day=1) + pd.Timedelta(days=(t - year) * 365.25)


def panel_frame(series_lists):
    rows = []
    for name, points in zip(SERIES, series_lists):
        for t, v in points:
            rows.append({'date': to_date(t), 'biomass': v, 'group': name})
    return pd.DataFrame(rows)


sns.set_theme(style='white')
plt.rcParams['font.family'] = ['Liberation Sans', 'DejaVu Sans']

W, H = 1111, 1107
fig = plt.figure(figsize=(W / 100, H / 100), dpi=100)
palette = dict(zip(SERIES, COLORS))

PANEL_LEFT, PANEL_RIGHT = 73, 1035
STRIP_LEFT, STRIP_RIGHT = 1037, 1110
PANEL_TOP0, PANEL_H, PANEL_STEP = 8.3, 83.3, 94.3
BORDER = '#8A8A8A'
LINE_W = 3.2

x_lo = pd.Timestamp('2000-07-02')
x_hi = pd.Timestamp('2011-07-02')

for i, (label, yt, series_lists) in enumerate(zip(STRIP_LABELS, Y_TICKS, PANEL_SERIES)):
    top = PANEL_TOP0 + i * PANEL_STEP
    bottom_frac = 1 - (top + PANEL_H) / H
    ax = fig.add_axes([PANEL_LEFT / W, bottom_frac, (PANEL_RIGHT - PANEL_LEFT) / W, PANEL_H / H])
    frame = panel_frame(series_lists)
    sns.lineplot(data=frame, x='date', y='biomass', hue='group', hue_order=SERIES, palette=palette,
                 linewidth=LINE_W, legend=False, estimator=None, ax=ax)
    ax.margins(y=0.05)
    ax.autoscale_view()
    lo, hi = ax.get_ylim()
    ax.set_yticks(yt)
    ax.set_yticklabels([str(v) for v in yt])
    ax.yaxis.set_minor_locator(AutoMinorLocator(2))
    ax.set_ylim(lo, hi)
    ax.set_xlim(x_lo, x_hi)
    ax.set_xticks([pd.Timestamp(year=y, month=1, day=1) for y in X_MAJOR_YEARS])
    ax.xaxis.set_minor_locator(FixedLocator(
        [matplotlib.dates.date2num(pd.Timestamp(year=y, month=1, day=1)) for y in X_MINOR_YEARS]))
    ax.set_xlabel('')
    ax.set_ylabel('')
    ax.set_axisbelow(True)
    ax.grid(which='major', color='#EBEBEB', linewidth=0.9)
    ax.grid(which='minor', color='#F4F4F4', linewidth=0.6)
    for sp in ax.spines.values():
        sp.set_color(BORDER)
        sp.set_linewidth(0.9)
    ax.tick_params(axis='y', which='major', length=3, width=0.8, color='#333333', labelcolor='#4D4D4D',
                   labelsize=11.5, pad=1.5, left=True)
    ax.tick_params(which='minor', length=0)
    if i == len(STRIP_LABELS) - 1:
        ax.set_xticklabels(X_TICK_LABELS)
        ax.tick_params(axis='x', which='major', length=3, width=0.8, color='#333333', labelcolor='#4D4D4D',
                       labelsize=11.5, pad=1.5, bottom=True)
    else:
        ax.tick_params(axis='x', which='both', length=0, labelbottom=False)

    sax = fig.add_axes([STRIP_LEFT / W, bottom_frac, (STRIP_RIGHT - STRIP_LEFT) / W, PANEL_H / H])
    sax.set_facecolor('#D9D9D9')
    sax.set_xticks([])
    sax.set_yticks([])
    for sp in sax.spines.values():
        sp.set_color(BORDER)
        sp.set_linewidth(0.9)
    sax.text(0.5, 0.5, label, rotation=270, ha='center', va='center', multialignment='center',
             transform=sax.transAxes, fontsize=12, color='#1A1A1A', linespacing=1.0)

fig.text(20 / W, 1 - 521.5 / H, 'Biomass [ugC L-1]', rotation=90, ha='center', va='center', fontsize=12)
fig.text((PANEL_LEFT + PANEL_RIGHT) / 2 / W, 1 - 1064 / H, 'Date', ha='center', va='center', fontsize=12)

handles = [Line2D([0], [0], color=c, linewidth=LINE_W) for c in COLORS]
fig.legend(handles, SERIES, loc='center', bbox_to_anchor=(562 / W, 1 - 1097 / H), ncol=4, frameon=False,
           fontsize=12, handlelength=4.0, handletextpad=0.9, columnspacing=0.9, borderpad=0, borderaxespad=0)

fig.savefig('out.png', dpi=100)
